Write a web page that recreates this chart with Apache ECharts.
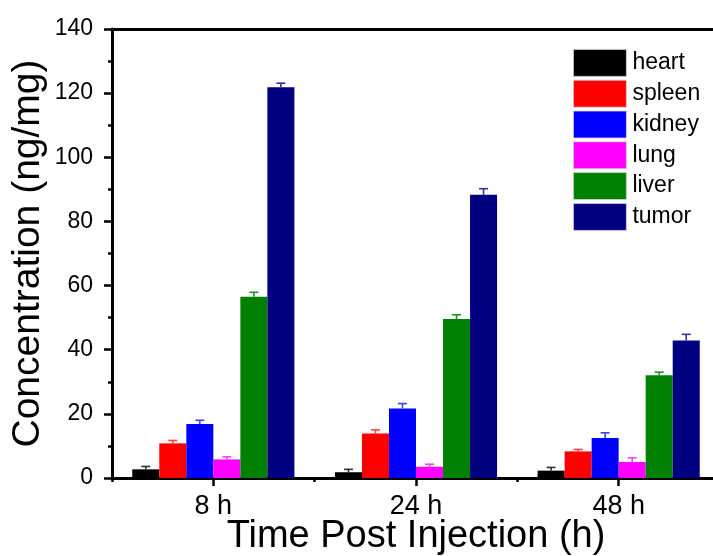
<!DOCTYPE html>
<html>
<head>
<meta charset="utf-8">
<script src="https://cdn.jsdelivr.net/npm/echarts@6/dist/echarts.min.js"></script>
<style>
html,body{margin:0;padding:0;background:#fff;}
#chart{width:713px;height:556px;}
</style>
</head>
<body>
<div id="chart"></div>
<script>
const categories = ['8 h', '24 h', '48 h'];
const organs = ['heart', 'spleen', 'kidney', 'lung', 'liver', 'tumor'];
const heart = [2.7, 1.8, 2.3];
const spleen = [10.8, 13.9, 8.3];
const kidney = [16.8, 21.7, 12.5];
const lung = [5.8, 3.5, 5.0];
const liver = [56.5, 49.6, 32.0];
const tumor = [121.8, 88.3, 42.9];
const heartErr = [0.9, 0.9, 1.0];
const spleenErr = [0.9, 1.1, 0.6];
const kidneyErr = [1.2, 1.5, 1.6];
const lungErr = [0.8, 0.8, 1.3];
const liverErr = [1.4, 1.3, 1.0];
const tumorErr = [1.3, 1.9, 1.9];

const values = [heart, spleen, kidney, lung, liver, tumor];
const errors = [heartErr, spleenErr, kidneyErr, lungErr, liverErr, tumorErr];
const colors = ['#000000', '#ff0000', '#0000ff', '#ff00ff', '#008000', '#000080'];
const errColors = ['#333333', '#ff4040', '#4040ff', '#ff40ff', '#209020', '#3030a0'];

const FONT = 'Liberation Sans, Arial, sans-serif';
const CAT_GAP = 0.2;

const errData = [];
values.forEach((arr, oi) => {
  arr.forEach((v, ci) => errData.push([ci, v, errors[oi][ci], oi]));
});

const chart = echarts.init(document.getElementById('chart'));

const barSeries = organs.map((name, i) => ({
  name: name,
  type: 'bar',
  xAxisIndex: 0,
  data: values[i],
  barGap: '0%',
  barCategoryGap: (CAT_GAP * 100) + '%',
  itemStyle: { color: colors[i] },
  z: 2
}));

const errorSeries = {
  type: 'custom',
  xAxisIndex: 0,
  data: errData,
  encode: { x: 0, y: 1 },
  z: 5,
  silent: true,
  renderItem: function (params, api) {
    const ci = api.value(0);
    const v = api.value(1);
    const e = api.value(2);
    const oi = api.value(3);
    const bw = api.size([1, 0])[0];
    const barW = bw * (1 - CAT_GAP) / organs.length;
    const base = api.coord([ci, v]);
    const topP = api.coord([ci, v + e]);
    const cx = base[0] + (oi - (organs.length - 1) / 2) * barW;
    const style = { stroke: errColors[oi], lineWidth: 1.6 };
    return {
      type: 'group',
      children: [
        { type: 'line', shape: { x1: cx, y1: base[1], x2: cx, y2: topP[1] }, style: style },
        { type: 'line', shape: { x1: cx - 4.5, y1: topP[1], x2: cx + 4.5, y2: topP[1] }, style: style }
      ]
    };
  }
};

const option = {
  animation: false,
  backgroundColor: '#ffffff',
  textStyle: { fontFamily: FONT },
  grid: { left: 112, right: -7, top: 29, bottom: 78, containLabel: false, outerBoundsMode: 'none' },
  legend: {
    data: organs,
    orient: 'vertical',
    left: 573,
    top: 49,
    padding: 0,
    itemWidth: 53,
    itemHeight: 27,
    itemGap: 3,
    icon: 'rect',
    textStyle: { fontFamily: FONT, fontSize: 23, color: '#000', padding: [0, 0, 0, 1] },
    itemStyle: { borderColor: '#d8d8d8', borderWidth: 0.8 }
  },
  xAxis: [
    {
      type: 'category',
      data: categories,
      position: 'bottom',
      axisLine: { show: true, lineStyle: { color: '#000', width: 3 } },
      axisTick: { show: true, alignWithLabel: true, length: 8, lineStyle: { color: '#000', width: 2.5 } },
      axisLabel: { color: '#000', fontSize: 27, fontFamily: FONT, margin: 15 },
      name: 'Time Post Injection (h)',
      nameLocation: 'middle',
      nameGap: 40,
      nameMoveOverlap: false,
      nameTextStyle: { color: '#000', fontSize: 38, fontFamily: FONT },
      splitLine: { show: false }
    },
    {
      type: 'category',
      data: categories,
      position: 'bottom',
      axisLine: { show: false },
      axisTick: { show: true, length: 4, lineStyle: { color: '#000', width: 2.5 } },
      axisLabel: { show: false },
      splitLine: { show: false }
    },
    {
      type: 'category',
      data: categories,
      position: 'top',
      axisLine: { show: true, lineStyle: { color: '#000', width: 3 } },
      axisTick: { show: false },
      axisLabel: { show: false },
      splitLine: { show: false }
    }
  ],
  yAxis: {
    type: 'value',
    min: 0,
    max: 140,
    interval: 20,
    axisLine: { show: true, lineStyle: { color: '#000', width: 3 } },
    axisTick: { show: true, length: 8, lineStyle: { color: '#000', width: 2.5 } },
    minorTick: { show: true, splitNumber: 2, length: 4, lineStyle: { color: '#000', width: 2.5 } },
    axisLabel: { color: '#000', fontSize: 23, fontFamily: FONT, margin: 19 },
    splitLine: { show: false },
    name: 'Concentration (ng/mg)',
    nameLocation: 'middle',
    nameGap: 64,
    nameMoveOverlap: false,
    nameTextStyle: { color: '#000', fontSize: 39, fontFamily: FONT }
  },
  series: barSeries.concat([errorSeries])
};

chart.setOption(option);
</script>
</body>
</html>
